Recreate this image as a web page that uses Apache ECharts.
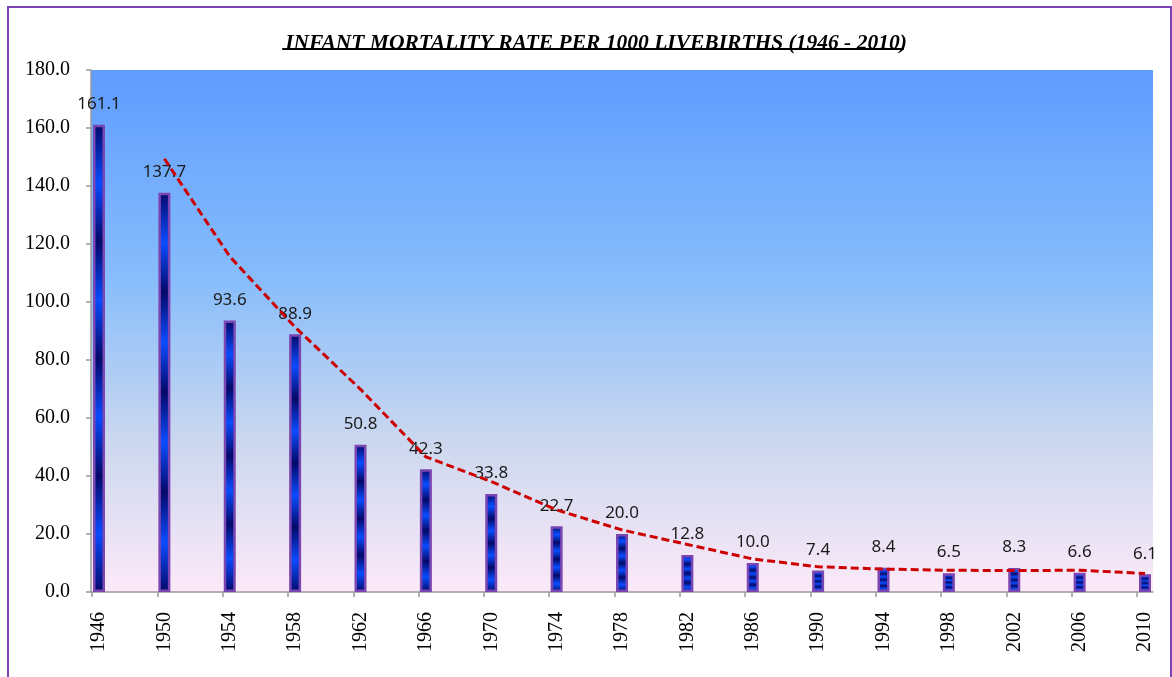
<!DOCTYPE html>
<html lang="en">
<head>
<meta charset="utf-8" />
<script src="https://cdn.jsdelivr.net/npm/echarts@6/dist/echarts.min.js"></script>
<title>Infant mortality rate</title>
<style>
  html, body { margin: 0; padding: 0; background: #fff; }
  #chart { width: 1172px; height: 677px; }
</style>
</head>
<body>
<div id="chart"></div>
<script>
// 数据
var years = ['1946','1950','1954','1958','1962','1966','1970','1974','1978','1982','1986','1990','1994','1998','2002','2006','2010'];
var rates = [161.1, 137.7, 93.6, 88.9, 50.8, 42.3, 33.8, 22.7, 20.0, 12.8, 10.0, 7.4, 8.4, 6.5, 8.3, 6.6, 6.1];
// dashed trend line (starts at 1950)
var trend = ['-', 149.4, 115.7, 91.3, 69.9, 46.6, 38.1, 28.3, 21.4, 16.4, 11.4, 8.7, 7.9, 7.5, 7.4, 7.5, 6.4];
var yTicks = { min: 0, max: 180, step: 20 };
var titleText = 'INFANT MORTALITY RATE PER 1000 LIVEBIRTHS (1946 - 2010)';

var titleFont = 'italic bold 21.5px "Liberation Serif"';
var serif = '"Liberation Serif", serif';

// underline width for the title
var ctx = document.createElement('canvas').getContext('2d');
ctx.font = titleFont;
var titleW = ctx.measureText(titleText).width;
var cx = 591;

var dark = '#03096a', bright = '#0a4cff';
var barFill = new echarts.graphic.LinearGradient(0, 0, 0, 1, [
  {offset: 0, color: dark}, {offset: 0.125, color: bright},
  {offset: 0.25, color: dark}, {offset: 0.375, color: bright},
  {offset: 0.5, color: dark}, {offset: 0.625, color: bright},
  {offset: 0.75, color: dark}, {offset: 0.875, color: bright},
  {offset: 1, color: dark}
]);

var myChart = echarts.init(document.getElementById('chart'));
var option = {
  animation: false,
  title: {
    text: titleText,
    left: cx,
    textAlign: 'center',
    top: 27,
    textStyle: { fontFamily: serif, fontStyle: 'italic', fontWeight: 'bold', fontSize: 21.5, color: '#000' }
  },
  graphic: [
    { type: 'rect', shape: { x: 8, y: 7, width: 1163, height: 690 }, style: { fill: null, stroke: '#7b42b3', lineWidth: 2 }, z: 100 },
    { type: 'rect', shape: { x: cx - titleW / 2 + 2, y: 48, width: titleW, height: 2 }, style: { fill: '#000' }, z: 100 }
  ],
  grid: [
    // plot background + y axis
    { left: 91, top: 70, width: 1062, height: 522, show: true, borderWidth: 0,
      backgroundColor: new echarts.graphic.LinearGradient(0, 0, 0, 1, [
        {offset: 0, color: '#5e9cff'},
        {offset: 0.4, color: '#87bdfb'},
        {offset: 0.72, color: '#cdd8ef'},
        {offset: 1, color: '#fce9f8'}
      ]) },
    // tick marks
    { left: 92, top: 70, width: 1045, height: 522 },
    // bars, labels, trend
    { left: 99, top: 70, width: 1046, height: 522 }
  ],
  xAxis: [
    { gridIndex: 0, type: 'value', min: 0, max: 1,
      axisLine: { show: true, lineStyle: { color: '#9a9a9a', width: 1.5 } },
      axisTick: { show: false }, axisLabel: { show: false }, splitLine: { show: false } },
    { gridIndex: 1, type: 'category', data: years, boundaryGap: false,
      axisLine: { show: false },
      axisTick: { show: true, length: 5, lineStyle: { color: '#9a9a9a', width: 1.5 } },
      axisLabel: { show: false }, splitLine: { show: false } },
    { gridIndex: 2, type: 'category', data: years, boundaryGap: false,
      axisLine: { show: false }, axisTick: { show: false },
      axisLabel: { rotate: 90, margin: 20, fontFamily: serif, fontSize: 20, color: '#000' },
      splitLine: { show: false } }
  ],
  yAxis: [
    { gridIndex: 0, type: 'value', min: yTicks.min, max: yTicks.max, interval: yTicks.step,
      axisLine: { show: true, lineStyle: { color: '#9a9a9a', width: 1.5 } },
      axisTick: { show: true, length: 5, lineStyle: { color: '#9a9a9a', width: 1.5 } },
      axisLabel: { margin: 21, fontFamily: serif, fontSize: 20, color: '#000',
        formatter: function (v) { return v.toFixed(1); } },
      splitLine: { show: false } },
    { gridIndex: 1, type: 'value', min: yTicks.min, max: yTicks.max, show: false },
    { gridIndex: 2, type: 'value', min: yTicks.min, max: yTicks.max, show: false }
  ],
  series: [
    {
      type: 'bar',
      xAxisIndex: 2, yAxisIndex: 2,
      data: rates,
      barWidth: 12,
      itemStyle: { color: barFill, borderColor: '#7a46b2', borderWidth: 2.5 },
      label: {
        show: true, position: 'top', distance: 12,
        fontFamily: '"Noto Sans", sans-serif', fontSize: 17, color: '#1a1a1a',
        formatter: function (p) { return p.value.toFixed(1); }
      },
      z: 2
    },
    {
      type: 'line',
      xAxisIndex: 2, yAxisIndex: 2,
      data: trend,
      symbol: 'none',
      lineStyle: { color: '#cc0000', width: 3, type: [8, 4] },
      z: 3
    }
  ]
};
myChart.setOption(option);
</script>
</body>
</html>
